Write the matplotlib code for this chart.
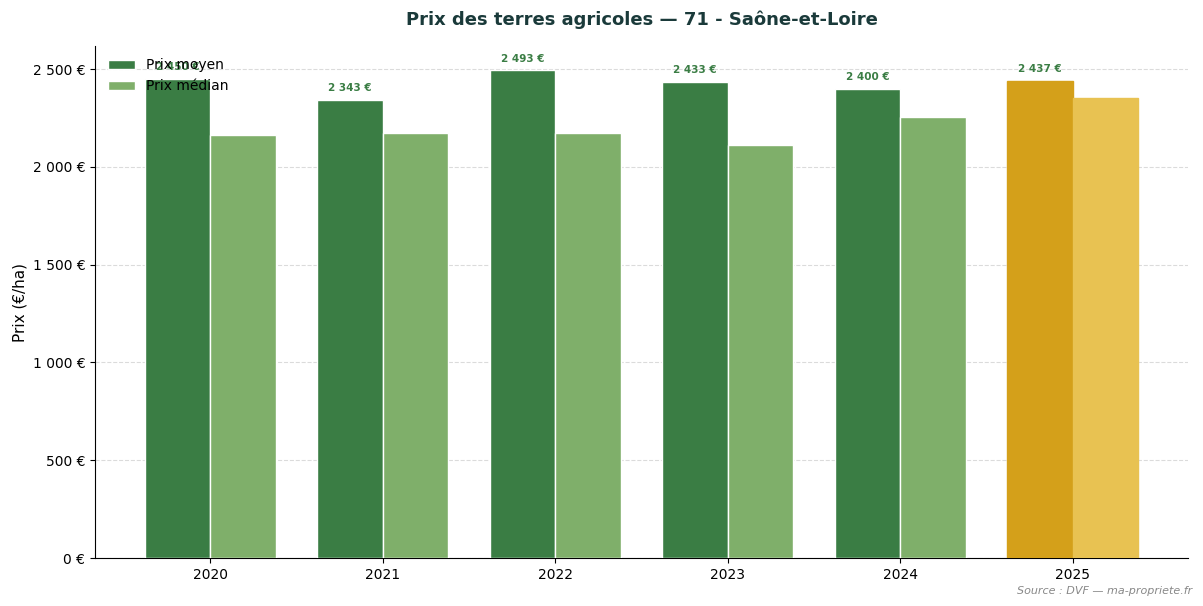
import matplotlib
matplotlib.use("Agg")
import matplotlib.pyplot as plt
import numpy as np

years = ["2020", "2021", "2022", "2023", "2024", "2025"]
prix_moyen = [2450, 2343, 2493, 2433, 2400, 2437]
prix_median = [2165, 2175, 2175, 2109, 2257, 2352]

c_moyen = "#3a7d44"
c_median = "#7faf6a"
c_moyen_cur = "#d4a01a"
c_median_cur = "#e8c252"

def fmt(v):
    return f"{int(round(v)):,}".replace(",", " ") + " €"

fig = plt.figure(figsize=(12.03, 6.06), dpi=100)
ax = fig.add_axes([0.079, 0.0792, 0.9085, 0.8449])

x = np.arange(len(years))
w = 0.38
cols_m = [c_moyen] * (len(years) - 1) + [c_moyen_cur]
cols_d = [c_median] * (len(years) - 1) + [c_median_cur]
edge_m = ["white"] * (len(years) - 1) + [c_moyen_cur]
edge_d = ["white"] * (len(years) - 1) + [c_median_cur]

ax.bar(x - w / 2, prix_moyen, w, color=cols_m, edgecolor=edge_m, linewidth=1, label="Prix moyen", zorder=3)
ax.bar(x + w / 2, prix_median, w, color=cols_d, edgecolor=edge_d, linewidth=1, label="Prix médian", zorder=3)

for xi, v in zip(x, prix_moyen):
    ax.text(xi - w / 2, v + 35, fmt(v), ha="center", va="bottom", fontsize=7.5,
            fontweight="bold", color=c_moyen, zorder=4)

ax.set_xticks(x)
ax.set_xticklabels(years)
ax.set_ylim(0, max(prix_moyen) * 1.05)
ax.yaxis.set_major_locator(matplotlib.ticker.MultipleLocator(500))
ax.yaxis.set_major_formatter(matplotlib.ticker.FuncFormatter(lambda v, p: fmt(v)))
ax.set_ylabel("Prix (€/ha)", fontsize=11)
ax.grid(axis="y", linestyle="--", color="#cccccc", alpha=0.7, zorder=0)
ax.set_axisbelow(True)
for s in ["top", "right"]:
    ax.spines[s].set_visible(False)

ax.set_title("Prix des terres agricoles — 71 - Saône-et-Loire", fontsize=13,
             fontweight="bold", color="#1a3a3a", pad=15)
leg = ax.legend(loc="upper left", frameon=False, fontsize=10)

fig.text(0.991, 0.017, "Source : DVF — ma-propriete.fr", ha="right", va="bottom",
         fontsize=8, style="italic", color="#888888")

fig.savefig("out.png", dpi=100)
